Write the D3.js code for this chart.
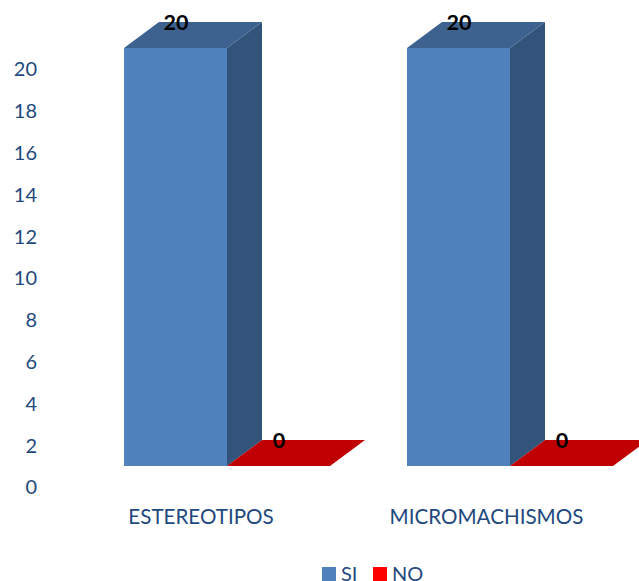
<!DOCTYPE html>
<html><head><meta charset="utf-8">
<script src="https://cdn.jsdelivr.net/npm/d3@7/dist/d3.min.js"></script>
<style>
html,body{margin:0;padding:0;background:#fff;overflow:hidden}
svg{display:block}
text{font-family:Lato,"Open Sans",sans-serif}
</style></head><body>
<svg id="c" width="639" height="581"></svg>
<script>
const categories=["ESTEREOTIPOS","MICROMACHISMOS"];
const seriesNames=["SI","NO"];
const siValues=[20,20];
const noValues=[0,0];
const yTicks=[0,2,4,6,8,10,12,14,16,18,20];
const seriesColors=["#4f81bd","#ff0000"];
const topColors=["#3d628f","#c00000"];
const sideColors=["#30527a","#c00000"];
const textColor="#1f497d";

const depthX=35,depthY=26;
const svg=d3.select("#c");
const defs=svg.append("defs");
defs.append("filter").attr("id","soft").append("feGaussianBlur").attr("stdDeviation",0.6);

const y=d3.scaleLinear().domain([0,20]).range([466,48]);
const x0=d3.scaleBand().domain(categories).range([124,690]).padding(0);
const x1=d3.scaleBand().domain(seriesNames).range([0,206]);
const vals={SI:siValues,NO:noValues};

const axis=d3.axisLeft(y).tickValues(yTicks).tickSize(0).tickFormat(d3.format("d"));
const ga=svg.append("g").attr("transform","translate(37,21.5)").call(axis);
ga.select(".domain").remove();
ga.selectAll("text").attr("x",0).attr("fill",textColor).style("font-size","20px").style("font-family","Lato,'Open Sans',sans-serif");

const marks=svg.append("g").attr("filter","url(#soft)");
const pts=a=>a.map(p=>p.join(",")).join(" ");
categories.forEach((c,ci)=>{
  seriesNames.forEach((s,si)=>{
    const v=vals[s][ci];
    const l=x0(c)+x1(s), r=l+x1.bandwidth(), t=y(v), b=y(0);
    const g=marks.append("g");
    g.append("polygon").attr("points",pts([[r,b],[r+depthX,b-depthY],[r+depthX,t-depthY],[r,t]])).attr("fill",sideColors[si]);
    g.append("polygon").attr("points",pts([[l,t],[l+depthX,t-depthY],[r+depthX,t-depthY],[r,t]])).attr("fill",topColors[si]);
    if(v>0) g.append("rect").attr("x",l).attr("y",t).attr("width",r-l).attr("height",b-t).attr("fill",seriesColors[si]);
  });
});
const catLabelShift=[-64.5,-62];
categories.forEach((c,ci)=>{
  seriesNames.forEach((s)=>{
    const v=vals[s][ci];
    const l=x0(c)+x1(s);
    svg.append("text").attr("x",l+52).attr("y",y(v)-18)
      .attr("text-anchor","middle").attr("fill","#000").attr("font-weight","bold")
      .style("font-size","21.5px").text(v);
  });
  svg.append("text").attr("x",x0(c)+x0.bandwidth()/2+catLabelShift[ci]).attr("y",524)
    .attr("text-anchor","middle").attr("fill",textColor).style("font-size","20.6px").text(c);
});
const legX=[322,373];
seriesNames.forEach((s,i)=>{
  svg.append("rect").attr("x",legX[i]).attr("y",567).attr("width",14).attr("height",14).attr("fill",seriesColors[i]);
  svg.append("text").attr("x",legX[i]+19).attr("y",581).attr("fill",textColor).style("font-size","20px").text(s);
});
</script>
</body></html>
